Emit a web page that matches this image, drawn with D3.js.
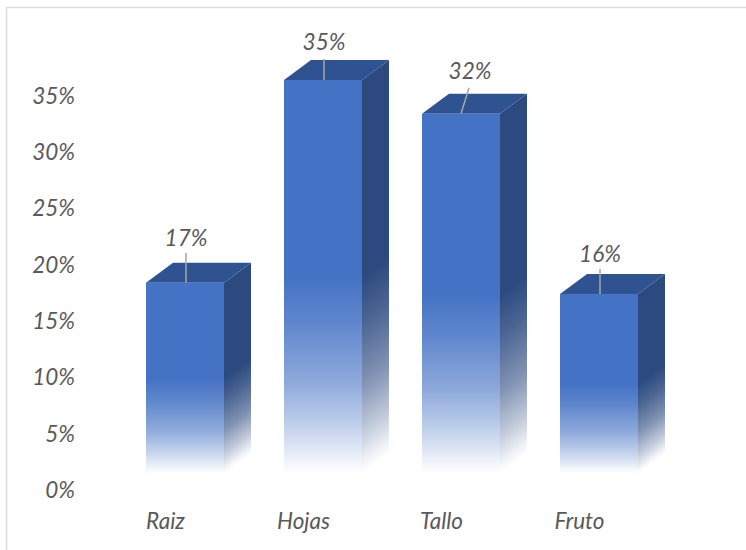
<!DOCTYPE html>
<html><head><meta charset="utf-8">
<script src="https://cdn.jsdelivr.net/npm/d3@7"></script>
<style>html,body{margin:0;padding:0;background:#fff}svg{display:block}</style>
</head><body><div id="c"></div>
<script>
const categories = ["Raiz","Hojas","Tallo","Fruto"];
const values = [17,35,32,16];
const valueLabels = ["17%","35%","32%","16%"];
const ticks = [0,5,10,15,20,25,30,35];

const W=746,H=550;
const svg=d3.select("#c").append("svg").attr("width",W).attr("height",H);
const font="Lato,'Open Sans',sans-serif", txt="#595959", fs=22.5;
svg.append("path").attr("d",`M6.5,${H}V7.5H${W}`).attr("fill","none").attr("stroke","#dedede").attr("stroke-width",1.6);

const y=d3.scaleLinear().domain([0,35]).range([474,80]);
const x=d3.scaleBand().domain(categories).range([146,638]).paddingInner(60/138).paddingOuter(0);
const dx=27,dy=20;
// leader-line and data-label placement relative to each bar: [label dx, label dy, leader end dx, leader end dy]
const leaders=[[1,-45,1,-30],[1,-38,1,-21],[9,-43,8,-26],[1,-40,1,-25]];
const defs=svg.append("defs");
const grad=(id,x1,y1,x2,y2,c,stops)=>{const g=defs.append("linearGradient").attr("id",id).attr("gradientUnits","userSpaceOnUse")
 .attr("x1",x1).attr("y1",y1).attr("x2",x2).attr("y2",y2);
 stops.forEach(s=>g.append("stop").attr("offset",s[0]).attr("stop-color",c).attr("stop-opacity",s[1]));};
const text=(g,px,py,s,anchor)=>g.append("text").attr("x",px).attr("y",py).attr("dy","0.35em").attr("text-anchor",anchor)
 .attr("font-family",font).attr("font-size",fs).attr("font-style","italic").attr("fill",txt).text(s);

const ax=svg.append("g");
ticks.forEach(d=>text(ax,75,y(d)+16,d+"%","end"));

categories.forEach((c,i)=>{
  const x0=x(c),x1=x0+x.bandwidth(),t=y(values[i]),b=y(0),h=b-t;
  const stops=[[0,1],[.5,1],[.62,.85],[.77,.6],[.89,.3],[.97,.07],[1,0]];
  grad("f"+i,0,t,0,b,"#4472c4",stops);
  // side face fades along isolines parallel to its slanted bottom edge
  const len2=dx*dx+dy*dy, k=h*dx/len2;
  grad("s"+i,x1,t,x1+dy*k,t+dx*k,"#2c4a80",stops);
  const g=svg.append("g");
  g.append("polygon").attr("points",[[x1,t],[x1+dx,t-dy],[x1+dx,b-dy],[x1,b]].join(" ")).attr("fill",`url(#s${i})`);
  g.append("polygon").attr("points",[[x0,t],[x0+dx,t-dy],[x1+dx,t-dy],[x1,t]].join(" ")).attr("fill","#2f5391");
  g.append("rect").attr("x",x0).attr("y",t).attr("width",x1-x0).attr("height",h).attr("fill",`url(#f${i})`);
  const cx=(x0+x1)/2, L=leaders[i];
  g.append("line").attr("x1",cx+(i===2?0:L[2])).attr("y1",t).attr("x2",cx+L[2]).attr("y2",t+L[3]).attr("stroke","#a6a6a6").attr("stroke-width",1.5);
  text(g,cx+L[0],t+L[1],valueLabels[i],"middle");
  text(g,cx-19.5,521,c,"middle");
});
</script></body></html>
